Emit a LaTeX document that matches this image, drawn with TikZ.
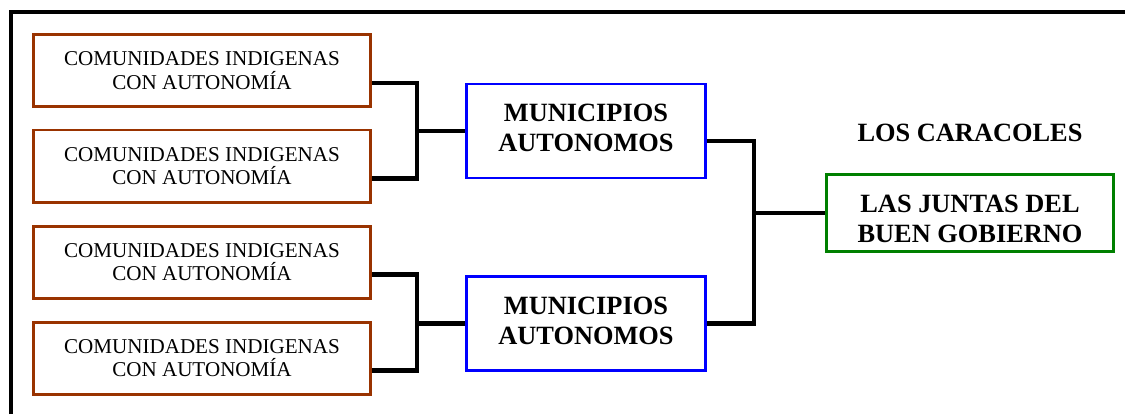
\documentclass[tikz,border=0pt]{standalone}
\usepackage{fontspec}
\setmainfont{Liberation Serif}
\usetikzlibrary{positioning,calc}
\definecolor{ezlnCafe}{HTML}{993300}
\definecolor{ezlnAzul}{HTML}{0000FF}
\definecolor{ezlnVerde}{HTML}{008000}
\tikzset{
  comunidad/.style={rectangle, draw=ezlnCafe, line width=1.7pt, fill=white,
    minimum width=6.74cm, minimum height=1.44cm, inner sep=0pt,
    align=center, font=\fontsize{12}{13.4}\selectfont},
  municipio/.style={rectangle, draw=ezlnAzul, line width=1.7pt, fill=white,
    minimum width=4.78cm, minimum height=1.88cm, inner sep=0pt,
    text height=23.7pt, text depth=0pt,
    align=center, font=\fontsize{15}{17.2}\selectfont\bfseries},
  junta/.style={rectangle, draw=ezlnVerde, line width=1.7pt, fill=white,
    minimum width=5.74cm, minimum height=1.54cm, inner sep=0pt,
    text height=33.1pt, text depth=0pt,
    align=center, font=\fontsize{15}{17}\selectfont\bfseries},
  enlace/.style={-, line width=2.45pt, black},
  marco/.style={-, line width=2.3pt, black},
}
\begin{document}
\begin{tikzpicture}
    \useasboundingbox (0,0) rectangle (22.5,-8.28);
    \draw[marco] (0.22,-8.28) -- (0.22,-0.24) -- (22.5,-0.24);
    \node[comunidad] (c1) at (4.04,-1.41) {COMUNIDADES INDIGENAS\\CON AUTONOMÍA};
    \node[comunidad] (c2) at (4.04,-3.32) {COMUNIDADES INDIGENAS\\CON AUTONOMÍA};
    \node[comunidad] (c3) at (4.04,-5.24) {COMUNIDADES INDIGENAS\\CON AUTONOMÍA};
    \node[comunidad] (c4) at (4.04,-7.16) {COMUNIDADES INDIGENAS\\CON AUTONOMÍA};
    \node[municipio] (m1) at (11.72,-2.62) {MUNICIPIOS\\AUTONOMOS};
    \node[municipio] (m2) at (11.72,-6.47) {MUNICIPIOS\\AUTONOMOS};
    \node[junta] (jbg) at (19.4,-4.26) {LAS JUNTAS DEL\\BUEN GOBIERNO};
    \node[font=\fontsize{15}{17}\selectfont\bfseries] (car) at (19.4,-2.66) {LOS CARACOLES};
    \coordinate (u1) at (8.34,-2.56);
    \coordinate (u2) at (8.34,-6.47);
    \coordinate (u3) at (15.08,-4.26);
    \foreach \a/\b/\u/\m in {c1/c2/u1/m1,c3/c4/u2/m2}{
      \draw[enlace] ([yshift=-0.25cm]\a.east) -| (\u) |- ([yshift=-0.25cm]\b.east);
      \draw[enlace] (\m.west) -- (\m.west -| \u);
    }
    \draw[enlace] ([yshift=-0.2cm]m1.east) -| (u3) |- (m2.east);
    \draw[enlace] (jbg.west) -- (u3);
  \end{tikzpicture}
\end{document}
